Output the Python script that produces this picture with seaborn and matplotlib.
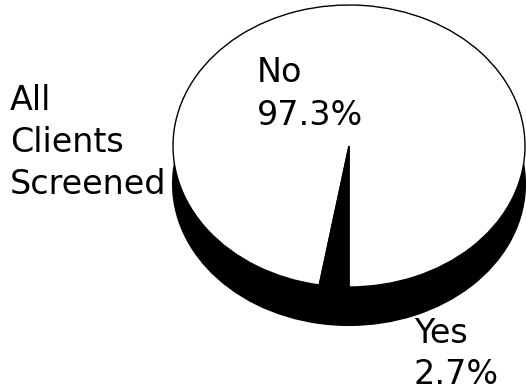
import matplotlib
matplotlib.use("Agg")
import matplotlib.pyplot as plt
import seaborn as sns

# Screening result shares (percent)
categories = ["No", "Yes"]
shares = [97.3, 2.7]
title_lines = ["All", "Clients", "Screened"]

sns.set_theme(style="white")
plt.rcParams["font.family"] = ["DejaVu Sans"]

W, H = 526, 391
fig = plt.figure(figsize=(W / 100, H / 100), dpi=100)
ax = fig.add_axes([0, 0, 1, 1])

# Ellipse geometry of the tilted pie (pixel units)
cx, cy = 349, 146        # centre of top face
rx, ry = 176, 141        # semi-axes of top face
depth_px = 38            # thickness of the extruded side

depth = depth_px / ry

# Side of the disc: the same pie pushed down, filled solid black
ax.pie(shares, colors=["black", "black"], center=(0, -depth),
       startangle=-90,
       wedgeprops=dict(edgecolor="black", linewidth=1.5))

# Top face: white main slice, black thin slice just left of the bottom
ax.pie(shares, colors=["white", "black"], center=(0, 0),
       startangle=-90,
       wedgeprops=dict(edgecolor="black", linewidth=1.0))

# Stretch the unit circle into the flattened ellipse
ax.set_aspect("auto")
ax.set_xlim(-cx / rx, (W - cx) / rx)
ax.set_ylim((cy - H) / ry, cy / ry)
ax.axis("off")


def put(lines, x, y_first, size=24, step=43):
    for i, line in enumerate(lines):
        fig.text(x / W, 1 - (y_first + i * step) / H, line,
                 fontsize=size, color="black", ha="left", va="baseline")


put(title_lines, 10, 110, step=42)
put([categories[0], f"{shares[0]:.1f}%"], 257, 82)
put([categories[1], f"{shares[1]:.1f}%"], 414, 343, step=41)

fig.savefig("out.png", dpi=100, facecolor="white")
